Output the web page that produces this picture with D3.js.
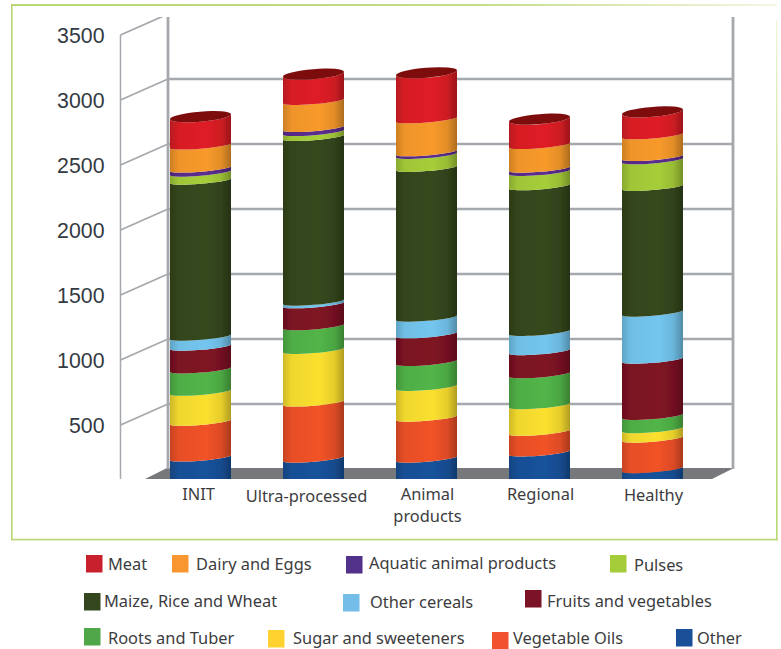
<!DOCTYPE html>
<html><head><meta charset="utf-8">
<script src="https://cdn.jsdelivr.net/npm/d3@7"></script>
<style>html,body{margin:0;padding:0;background:#fff}svg{display:block}</style>
</head><body><div id="c"></div>
<script>
const categories = ["INIT","Ultra-processed","Animal products","Regional","Healthy"];
const seriesNames = ["Other","Vegetable Oils","Sugar and sweeteners","Roots and Tuber","Fruits and vegetables","Other cereals","Maize, Rice and Wheat","Pulses","Aquatic animal products","Dairy and Eggs","Meat"];
const other = [183,175,175,222,94];
const vegetableOils = [275,431,315,159,235];
const sugar = [231,405,236,205,72];
const roots = [172,182,192,238,102];
const fruits = [175,169,213,177,433];
const otherCereals = [77,20,128,148,362];
const maizeRiceWheat = [1200,1267,1152,1121,967];
const pulses = [62,38,100,110,205];
const aquatic = [31,31,20,25,25];
const dairy = [177,208,254,182,167];
const meat = [208,192,344,185,166];
const seriesValues = [other,vegetableOils,sugar,roots,fruits,otherCereals,maizeRiceWheat,pulses,aquatic,dairy,meat];
const seriesColors = ["#17529b","#f15228","#fbe02f","#52b548","#7f1324","#74c6ef","#35481c","#a6ce39","#5b2d8e","#f89a2b","#df1f26"];
const legendColors = ["#1a5097","#f15330","#ffd230","#4fa74a","#7c1225","#74bde9","#33461d","#a5cd39","#52318a","#f8962f","#c9202e"];
const yTicks = [500,1000,1500,2000,2500,3000,3500];

const W=781,H=649, clipBottom=479, wallTop=17;
const svg=d3.select("#c").append("svg").attr("width",W).attr("height",H);
const defs=svg.append("defs");
defs.append("clipPath").attr("id","plot").append("rect").attr("x",0).attr("y",wallTop).attr("width",W).attr("height",clipBottom-wallTop);
defs.append("clipPath").attr("id","bars").append("rect").attr("x",0).attr("y",0).attr("width",W).attr("height",clipBottom);
defs.append("filter").attr("id","soft").attr("x","-5%").attr("y","-5%").attr("width","110%").attr("height","110%")
  .append("feGaussianBlur").attr("stdDeviation",0.45);

// frame
const fadeH=defs.append("linearGradient").attr("id","fadeH");
fadeH.append("stop").attr("offset","0").attr("stop-color","#b9d774");
fadeH.append("stop").attr("offset","0.6").attr("stop-color","#c4dc85");
fadeH.append("stop").attr("offset","1").attr("stop-color","#f2f7e3");
const fadeV=defs.append("linearGradient").attr("id","fadeV").attr("x1",0).attr("x2",0).attr("y1",0).attr("y2",1);
fadeV.append("stop").attr("offset","0").attr("stop-color","#f0f6de");
fadeV.append("stop").attr("offset","0.45").attr("stop-color","#c4dc85");
fadeV.append("stop").attr("offset","1").attr("stop-color","#b9d774");
svg.append("rect").attr("x",11).attr("y",4).attr("width",766).attr("height",2).attr("fill","url(#fadeH)");
svg.append("rect").attr("x",11).attr("y",4).attr("width",1.6).attr("height",536).attr("fill","#b9d774");
svg.append("rect").attr("x",776).attr("y",20).attr("width",1.6).attr("height",520).attr("fill","url(#fadeV)");
svg.append("rect").attr("x",11).attr("y",538.8).attr("width",767).attr("height",1.6).attr("fill","#b9d774");

// scales
const yFront=d3.scaleLinear().domain([0,3500]).range([490,35]);
const yBack=d3.scaleLinear().domain([0,3500]).range([469,14]);
const yBar=d3.scaleLinear().domain([0,3500]).range([481.5,26.5]);
const xBar=d3.scalePoint().domain(categories).range([200.5,652.5]);
const backL=168, backR=733, frontL=120.5, gridCol="#a5a8ac";

const wall=svg.append("g").attr("clip-path","url(#plot)");
// floor
svg.append("path").attr("fill","#77787b")
  .attr("d",`M145,${clipBottom}L${backL-1},${yBack(0)-1}L${backR+1},${yBack(0)-1}L712,${clipBottom}Z`);
// back grid
wall.selectAll("line.g").data(yTicks.filter(t=>t<3500)).join("line").attr("class","g")
  .attr("x1",backL).attr("x2",backR).attr("y1",d=>yBack(d)).attr("y2",d=>yBack(d))
  .attr("stroke",gridCol).attr("stroke-width",2.6);
// side ticks
wall.selectAll("line.s").data(yTicks).join("line").attr("class","s")
  .attr("x1",frontL).attr("x2",backL).attr("y1",d=>yFront(d)).attr("y2",d=>yBack(d))
  .attr("stroke",gridCol).attr("stroke-width",1.8);
[[frontL,35,1.5],[backL,wallTop,2.8],[backR,wallTop,2.8]].forEach(([x,y0,w])=>{
  svg.append("line").attr("x1",x).attr("x2",x).attr("y1",y0)
     .attr("y2",x===frontL?clipBottom:yBack(0)).attr("stroke",gridCol).attr("stroke-width",w);
});

// y labels
svg.selectAll("text.yl").data(yTicks).join("text").attr("class","yl")
  .attr("x",104.5).attr("y",d=>yFront(d)+1).attr("text-anchor","end").attr("dominant-baseline","central")
  .attr("font-family","Liberation Sans").attr("font-size",21.3).attr("fill","#333a42").text(d=>d);

// gradients
seriesColors.forEach((c,i)=>{
  const g=defs.append("linearGradient").attr("id","g"+i);
  const base=d3.color(c);
  [[0,base.darker(0.55)],[0.14,base.darker(0.12)],[0.6,base],[0.84,base.darker(0.25)],[1,base.darker(1.0)]]
   .forEach(([o,col])=>g.append("stop").attr("offset",o).attr("stop-color",col.formatHex()));
});

// cylinders
const barW=61, tilt=2.5, rx=barW/2+0.1, ry=3, capRy=5, rot=-4.7;
const stacks=categories.map((c,ci)=>{let s=0;return seriesValues.map((v,si)=>{const o={c,si,y0:s,y1:s+v[ci]};s+=v[ci];return o;});});
const outer=svg.append("g").attr("clip-path","url(#bars)");
const barG=outer.append("g").attr("filter","url(#soft)");
stacks.forEach(st=>{
  st.forEach((d,k)=>{
    const isTop=k===st.length-1;
    const xl=xBar(d.c)-barW/2,xr=xBar(d.c)+barW/2;
    const yt=isTop?yBar(d.y1)+ry-capRy:yBar(d.y1), yb=yBar(d.y0), rT=isTop?capRy:ry;
    barG.append("path").attr("fill",`url(#g${d.si})`)
      .attr("d",`M${xl},${yt+tilt}A${rx},${rT} ${rot} 0 0 ${xr},${yt-tilt}L${xr},${yb-tilt}A${rx},${ry} ${rot} 0 1 ${xl},${yb+tilt}Z`);
  });
  const top=st[st.length-1], cy=yBar(top.y1)+ry-capRy;
  barG.append("ellipse").attr("cx",xBar(top.c)).attr("cy",cy).attr("rx",rx).attr("ry",capRy)
    .attr("transform",`rotate(${rot} ${xBar(top.c)} ${cy})`).attr("fill","#7d0c10");
});

// category labels
const catFont="Noto Sans", labelSize=16.4;
const catOffsets=[[-2,493],[-7,495],[1,493],[1,493],[1,494]];
categories.forEach((c,i)=>{
  const x=xBar(c)+catOffsets[i][0];
  const lines=c==="Animal products"?["Animal","products"]:[c];
  lines.forEach((t,j)=>svg.append("text").attr("x",x).attr("y",catOffsets[i][1]+j*22)
    .attr("text-anchor","middle").attr("dominant-baseline","central")
    .attr("font-family",catFont).attr("font-size",labelSize).attr("fill","#3c3c3e").text(t));
});

// legend (order follows series index)
const legendLayout=[
 {i:10,sx:86,sy:555,tx:108,ty:563},{i:9,sx:172,sy:555,tx:196,ty:563},{i:8,sx:346,sy:556,tx:369,ty:562},{i:7,sx:610,sy:555,tx:634,ty:564},
 {i:6,sx:84,sy:593,tx:104,ty:600},{i:5,sx:343,sy:594,tx:370,ty:601},{i:4,sx:525,sy:590,tx:547,ty:600},
 {i:3,sx:84,sy:628,tx:108,ty:637},{i:2,sx:268,sy:630,tx:293,ty:637},{i:1,sx:492,sy:632,tx:513,ty:637.5},{i:0,sx:676,sy:629,tx:697,ty:637.5}];
const lg=svg.append("g");
legendLayout.forEach(l=>{
  lg.append("rect").attr("x",l.sx).attr("y",l.sy).attr("width",16.5).attr("height",17.5).attr("fill",legendColors[l.i]);
  lg.append("text").attr("x",l.tx).attr("y",l.ty).attr("dominant-baseline","central")
    .attr("font-family",catFont).attr("font-size",labelSize).attr("fill","#3c3c3e").text(seriesNames[l.i]);
});
</script></body></html>
